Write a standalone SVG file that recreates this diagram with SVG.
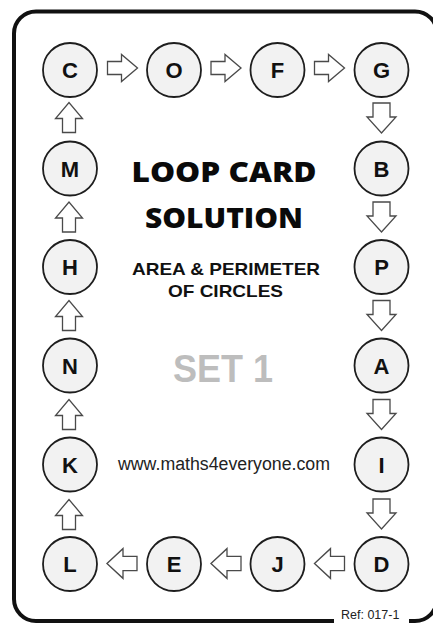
<svg xmlns="http://www.w3.org/2000/svg" width="433" height="623" viewBox="0 0 433 623">
<style>
.node circle{fill:#f2f2f2;stroke:#1e1e1e;stroke-width:1.8}
.node text{font-family:"Liberation Sans",Arial,sans-serif;font-weight:bold;font-size:22px;fill:#111;text-anchor:middle}
.arr{fill:#fff;stroke:#4a4a4a;stroke-width:1.3;stroke-linejoin:miter}
.t{font-family:"Liberation Sans",Arial,sans-serif;text-anchor:middle;fill:#111}
.big{font-family:"Open Sans",Lato,sans-serif;font-weight:800;font-size:28px;text-anchor:middle;fill:#0a0a0a}
</style>
<defs>
<path id="a" d="M-15,-6.5 H-1 V-13.5 L15,0 L-1,13.5 V6.5 H-15 Z"/>
<path id="aw" d="M-15,-8.5 H-1 V-14.5 L15,0 L-1,14.5 V8.5 H-15 Z"/>
</defs>
<rect width="433" height="623" fill="#fff"/>
<path id="card" d="M334,621 H36 A22,22 0 0 1 14,599 V33.5 A22,22 0 0 1 36,11.5 H415 A22,22 0 0 1 437,33.5 V599 A22,22 0 0 1 415,621 H409" fill="none" stroke="#111" stroke-width="4"/>
<text class="t" x="341" y="619" style="text-anchor:start;font-size:12.5px;fill:#222">Ref: 017-1</text>

<g id="connectors" class="arr">
<use href="#a" transform="translate(122.5,68)"/>
<use href="#a" transform="translate(226,68)"/>
<use href="#a" transform="translate(329.5,68)"/>
<use href="#aw" transform="translate(381.5,118) rotate(90)"/>
<use href="#aw" transform="translate(381.5,217) rotate(90)"/>
<use href="#aw" transform="translate(381.5,315.5) rotate(90)"/>
<use href="#aw" transform="translate(381.5,414.5) rotate(90)"/>
<use href="#aw" transform="translate(381.5,514) rotate(90)"/>
<use href="#a" transform="translate(329.5,563.5) rotate(180) scale(1,1.1)"/>
<use href="#a" transform="translate(226,563.5) rotate(180) scale(1,1.1)"/>
<use href="#a" transform="translate(122,563.5) rotate(180) scale(1,1.1)"/>
<use href="#a" transform="translate(69,514.5) rotate(-90)"/>
<use href="#a" transform="translate(69,414.5) rotate(-90)"/>
<use href="#a" transform="translate(69,315.5) rotate(-90)"/>
<use href="#a" transform="translate(69,217) rotate(-90)"/>
<use href="#a" transform="translate(69,117.5) rotate(-90)"/>
</g>

<g id="C" class="node"><circle cx="70" cy="70" r="27"/><text x="70" y="78">C</text></g>
<g id="O" class="node"><circle cx="174" cy="70" r="27"/><text x="174" y="78">O</text></g>
<g id="F" class="node"><circle cx="277.5" cy="70" r="27"/><text x="277.5" y="78">F</text></g>
<g id="G" class="node"><circle cx="381.5" cy="70" r="27"/><text x="381.5" y="78">G</text></g>
<g id="B" class="node"><circle cx="381.5" cy="168.5" r="27"/><text x="381.5" y="176.5">B</text></g>
<g id="P" class="node"><circle cx="381.5" cy="267" r="27"/><text x="381.5" y="275">P</text></g>
<g id="A" class="node"><circle cx="381.5" cy="365.5" r="27"/><text x="381.5" y="373.5">A</text></g>
<g id="I" class="node"><circle cx="381.5" cy="464.5" r="27"/><text x="381.5" y="472.5">I</text></g>
<g id="D" class="node"><circle cx="381.5" cy="564" r="27"/><text x="381.5" y="572">D</text></g>
<g id="J" class="node"><circle cx="277.5" cy="564" r="27"/><text x="277.5" y="572">J</text></g>
<g id="E" class="node"><circle cx="174" cy="564" r="27"/><text x="174" y="572">E</text></g>
<g id="L" class="node"><circle cx="70" cy="564" r="27"/><text x="70" y="572">L</text></g>
<g id="K" class="node"><circle cx="70" cy="464.5" r="27"/><text x="70" y="472.5">K</text></g>
<g id="N" class="node"><circle cx="70" cy="365.5" r="27"/><text x="70" y="373.5">N</text></g>
<g id="H" class="node"><circle cx="70" cy="267" r="27"/><text x="70" y="275">H</text></g>
<g id="M" class="node"><circle cx="70" cy="168.5" r="27"/><text x="70" y="176.5">M</text></g>

<g id="title">
<text class="big" x="224" y="181.5" textLength="185" lengthAdjust="spacingAndGlyphs">LOOP CARD</text>
<text class="big" x="224" y="228.3" textLength="158" lengthAdjust="spacingAndGlyphs">SOLUTION</text>
<text class="t" x="226" y="275" style="font-weight:bold;font-size:17px" textLength="188" lengthAdjust="spacingAndGlyphs">AREA &amp; PERIMETER</text>
<text class="t" x="225.5" y="296.7" style="font-weight:bold;font-size:17px" textLength="115" lengthAdjust="spacingAndGlyphs">OF CIRCLES</text>
<text class="t" x="223" y="381.7" style="font-weight:bold;font-size:38px;fill:#bdbdbd" textLength="100" lengthAdjust="spacingAndGlyphs">SET 1</text>
<text class="t" x="224" y="470" style="font-size:17.6px;fill:#222" textLength="212" lengthAdjust="spacingAndGlyphs">www.maths4everyone.com</text>
</g>
</svg>
